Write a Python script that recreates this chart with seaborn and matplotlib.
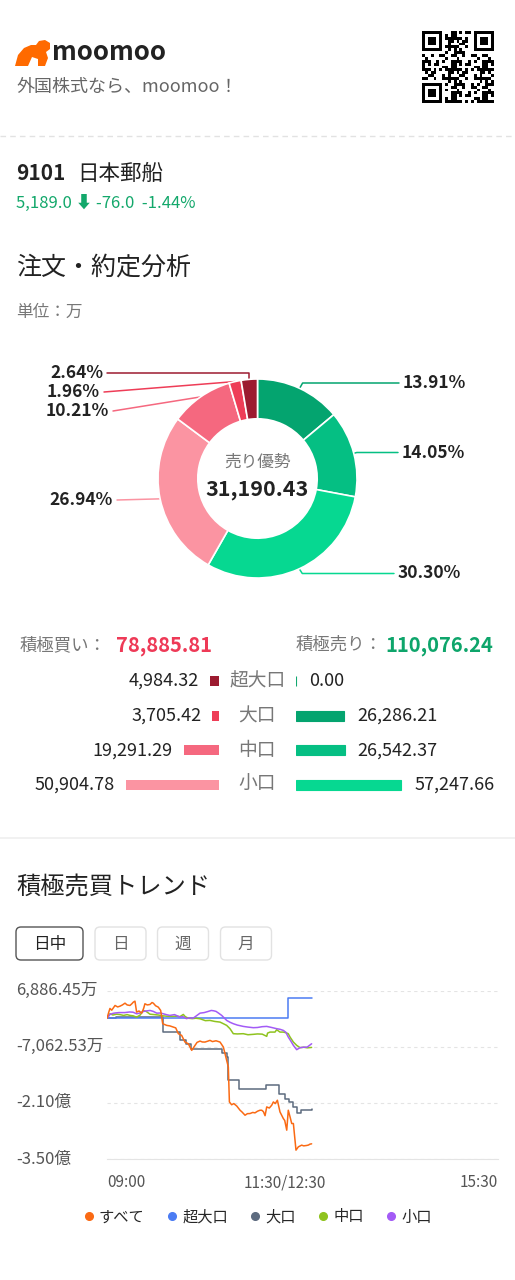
import numpy as np
import pandas as pd
import seaborn as sns
import matplotlib.pyplot as plt
from matplotlib.patches import Polygon, FancyBboxPatch
from matplotlib.lines import Line2D

# ---- header / quote ----
brand = "moomoo"
tagline = "外国株式なら、moomoo！"
ticker = "9101"
stock_name = "日本郵船"
quote_text = "5,189.0 ⬇ -76.0  -1.44%"

# ---- order / execution breakdown (unit: 万) ----
pie_labels = ["13.91%", "14.05%", "30.30%", "26.94%", "10.21%", "1.96%", "2.64%"]
pie_values = [26286.21, 26542.37, 57247.66, 50904.78, 19291.29, 3705.42, 4984.32]
pie_colors = ["#04a46f", "#05bf83", "#06d891", "#fb94a2", "#f5687f", "#ee3d57", "#9c1b30"]
net_caption = "売り優勢"
net_value = "31,190.43"

total_buy = "78,885.81"
total_sell = "110,076.24"
size_rows = ["超大口", "大口", "中口", "小口"]
buy_values = [4984.32, 3705.42, 19291.29, 50904.78]
sell_values = [0.00, 26286.21, 26542.37, 57247.66]
buy_colors = ["#9c1b30", "#ee3d57", "#f5687f", "#fb94a2"]
sell_colors = ["#13a870", "#04a46f", "#05bf83", "#06d891"]

# ---- intraday trend (x: trading minutes since 09:00, y: 万) ----
period_tabs = ["日中", "日", "週", "月"]
x_ticks = [0, 150, 330]
x_ticklabels = ["09:00", "11:30/12:30", "15:30"]
y_ticks = [6886.45, -7062.53, -21011.51, -34960.49]
y_ticklabels = ["6,886.45万", "-7,062.53万", "-2.10億", "-3.50億"]

all_t = [0, 1.5, 2.5, 4, 6.8, 9, 11, 13, 15.2, 17, 19.4, 21, 22.2, 23.6, 25, 27, 29.3, 31, 32, 34,
         36.3, 38, 39.1, 41, 43.3, 45.3, 47, 50.4, 53, 56, 58, 60.2, 63, 65.8, 68.6, 71.5, 74.3, 76,
         78.5, 80.5, 82.7, 85, 86.9, 89, 92, 95.4, 98.2, 101, 102.4, 103.3, 105.2, 107, 109.5, 112.3,
         114, 116.5, 118.5, 120.7, 123, 124.9, 127, 129.1, 130.6, 132, 133.4, 134.8, 137, 139, 140.4,
         142, 143.8, 146, 148.8, 150, 151.7, 153, 154.5, 155.9, 157.3, 159.5, 161.5, 164.3, 166,
         168.5, 170, 171.3, 172.7]
all_v = [0, 1500, 2430, 2000, 3170, 2800, 3000, 3300, 3740, 3300, 3170, 3600, 3990, 4240, 1510, 1800,
         1260, 2500, 3590, 3300, 3420, 3900, 3740, 3100, 2750, 1930, -1360, -1780, -1900, -2200, -2400,
         -3840, -4260, -5920, -6330, -7980, -6740, -6000, -5670, -5900, -5920, -5700, -5500, -5800,
         -5600, -5920, -7160, -10460, -12120, -20790, -21490, -21200, -21800, -22850, -23300, -24090,
         -23700, -23670, -23400, -23500, -23100, -22850, -22850, -23200, -24200, -22030, -22300, -21610,
         -20790, -21200, -20370, -23270, -24900, -25400, -27800, -22850, -24510, -26150, -26150, -32760,
         -31940, -31520, -31700, -31600, -31500, -31270, -31190.43]

xl_t = [0, 153, 172.7]
xl_v = [0, 4984.32, 4984.32]

lg_t = [0, 8, 47, 62, 67, 71, 97, 101, 102, 111, 134, 145, 150, 154, 157, 160, 164, 172.7]
lg_v = [0, 400, -3440, -5500, -6320, -7560, -8720, -9640, -15410, -17640, -16480, -18710, -19950,
        -20790, -22030, -23510, -22680, -22580.79]

md_t = [0, 2.5, 5, 8, 11, 14, 17, 19.4, 22, 25, 28, 30.7, 33, 36.3, 40, 43.3, 47, 50.4, 55, 59, 61.6,
        64.4, 66, 68.6, 72, 75, 78.5, 83, 86.9, 91, 95.4, 98.2, 101, 103.8, 106.6, 110, 115, 119, 123.5,
        127, 131, 134.8, 135.5, 137.6, 141.8, 143.2, 146, 148.8, 151, 153, 154.5, 157.3, 160.1, 162.9,
        166, 169, 172.7]
md_v = [0, 1110, 800, 1000, 900, 700, 900, 700, 600, 270, 800, 1930, 1700, 1000, 900, 800, 600, 500,
        450, 500, 400, 940, 400, 0, -100, 0, -130, -600, -540, -800, -960, -1360, -1780, -2600, -3840,
        -3900, -3840, -4100, -4000, -3900, -3950, -4500, -3700, -3440, -3440, -2850, -3440, -3440, -3600,
        -3840, -4680, -5920, -6740, -7310, -7200, -7350, -7251.08]

sm_t = [0, 2.5, 5, 6.8, 10, 15, 19, 22, 25, 28, 30.7, 33, 36.3, 39, 42, 45, 47.5, 50, 53, 57, 61.6,
        64, 67, 70, 72.7, 75, 78.5, 82, 85, 88, 90, 92, 94, 96.8, 101, 103.8, 106.6, 110, 115, 119,
        123.5, 127, 131, 134.8, 139, 143.2, 146, 148.8, 151, 153, 155, 157.3, 160.1, 162.9, 166, 169,
        172.7]
sm_v = [0, 940, 1200, 1300, 1400, 1400, 1550, 1500, 1100, 1300, 1680, 1800, 1930, 1700, 1260, 1300,
        1110, 900, 700, 900, 270, 400, -100, 100, 0, 500, 1260, 1400, 1650, 1930, 1850, 1700, 1300, 700,
        -540, -1000, -1360, -1700, -2030, -2200, -2350, -2300, -2100, -2030, -2300, -2600, -2750, -3020,
        -3500, -4680, -5600, -6740, -7810, -7310, -7200, -7160, -6342.88]

series_names = ["すべて", "超大口", "大口", "中口", "小口"]
series_colors = ["#fa6a14", "#4b7cf3", "#5d6b7f", "#8fc31f", "#a35bf6"]

sns.set_theme(style="white")
plt.rcParams["font.family"] = ["Noto Sans CJK JP", "DejaVu Sans"]

W, H = 515, 1280
fig = plt.figure(figsize=(W / 100, H / 100), dpi=100, facecolor="white")
bg = fig.add_axes([0, 0, 1, 1])
bg.set_xlim(0, W)
bg.set_ylim(H, 0)
bg.axis("off")


def px_axes(x0, y0, x1, y1):
    return fig.add_axes([x0 / W, 1 - y1 / H, (x1 - x0) / W, (y1 - y0) / H])


def txt(x, y, s, size, color="#222222", weight="normal", ha="left", va="center"):
    bg.text(x, y, s, fontsize=size, color=color, fontweight=weight, ha=ha, va=va)


# header
bg.add_patch(Polygon([(15, 66), (18, 55), (24, 48), (31, 45), (36, 45), (39, 41), (45, 40), (50, 43),
                      (50, 49), (46, 52), (48, 58), (45, 66), (38, 66), (38, 59), (32, 57), (28, 66)],
                     closed=True, color="#ff6a00", lw=0))
txt(52, 53, brand, 18.5, color="#222222", weight="bold")
txt(16, 87, tagline, 13, color="#666666")

# QR-like block
n = 25
ii, jj = np.meshgrid(np.arange(n), np.arange(n), indexing="ij")
qr = ((ii * ii * 3 + jj * jj * 5 + ii * jj * 7 + ii + 2 * jj) % 11 < 5).astype(float)
for r0, c0 in [(0, 0), (0, n - 7), (n - 7, 0)]:
    qr[max(r0 - 1, 0):r0 + 8, max(c0 - 1, 0):c0 + 8] = 0
    blk = np.ones((7, 7))
    blk[1:6, 1:6] = 0
    blk[2:5, 2:5] = 1
    qr[r0:r0 + 7, c0:c0 + 7] = blk
bg.imshow(qr, cmap="Greys", vmin=0, vmax=1, extent=(421.5, 493.5, 103.5, 31.5),
          interpolation="nearest")
bg.set_aspect("auto")
bg.set_xlim(0, W)
bg.set_ylim(H, 0)

bg.plot([0, W], [136, 136], color="#e2e2e2", lw=1, ls=(0, (4, 3)))

# quote
txt(16, 174, ticker, 15, weight="bold")
txt(77, 174, stock_name, 15.5)
txt(16, 203, quote_text, 12, color="#13a86b")
txt(16, 268, "注文・約定分析", 18)
txt(16, 312, "単位：万", 12, color="#777777")

# donut
cx, cy, R = 257.5, 478.5, 99.5
ax_pie = px_axes(cx - R, cy - R, cx + R, cy + R)
ax_pie.pie(pie_values, colors=pie_colors, startangle=90, counterclock=False, radius=1,
           wedgeprops=dict(width=0.4, edgecolor="white", linewidth=1.2))
ax_pie.set_xlim(-1, 1)
ax_pie.set_ylim(-1, 1)
ax_pie.axis("off")
txt(cx, 462, net_caption, 12, color="#777777", ha="center")
txt(cx, 489, net_value, 15.5, weight="bold", ha="center")

fr = np.array(pie_values) / np.sum(pie_values)
theta = 2 * np.pi * (np.cumsum(fr) - fr / 2)
sx = cx + R * np.sin(theta)
sy = cy - R * np.cos(theta)
label_y = [383, 452.5, 573.5, 500, 411, 392, 373]
line_end = [399, 398, 394, 117, 113, 104, 107]
for k, lab in enumerate(pie_labels):
    ly, ex = label_y[k], line_end[k]
    if ex > cx:
        xs, ys = [sx[k], sx[k] + 3, ex], [sy[k], ly, ly]
        tx, ha = ex + 4, "left"
    else:
        if k == len(pie_labels) - 1:
            xs, ys = [sx[k], sx[k], ex], [sy[k], ly, ly]
        else:
            xs, ys = [sx[k], ex], [sy[k], ly]
        tx, ha = ex - 4, "right"
    bg.plot(xs, ys, color=pie_colors[k], lw=1.1)
    txt(tx, ly, lab, 12.5, weight="bold", ha=ha)

# totals
txt(20, 645, "積極買い：", 12.5, color="#777777")
txt(116, 645, total_buy, 14.5, color="#ee3a57", weight="bold")
txt(296, 645, "積極売り：", 12.5, color="#777777")
txt(493, 645, total_sell, 14.5, color="#0ea56b", weight="bold", ha="right")

# buy / sell bars
scale = 0.00184  # px per 万
row_top, row_bot = 663.75, 802.25
ax_buy = px_axes(100, row_top, 219.3, row_bot)
ax_sell = px_axes(295.7, row_top, 420, row_bot)
sns.barplot(x=buy_values, y=size_rows, hue=size_rows, palette=dict(zip(size_rows, buy_colors)),
            orient="h", width=0.29, legend=False, ax=ax_buy, linewidth=0, saturation=1)
sns.barplot(x=sell_values, y=size_rows, hue=size_rows, palette=dict(zip(size_rows, sell_colors)),
            orient="h", width=0.29, legend=False, ax=ax_sell, linewidth=0, saturation=1)
for p in ax_sell.patches:
    p.set_edgecolor(p.get_facecolor())
    p.set_linewidth(0.8)
ax_buy.set_xlim(119.3 / scale, 0)
ax_sell.set_xlim(0, 124.3 / scale)
for a in (ax_buy, ax_sell):
    a.set_ylim(3.5, -0.5)
    a.axis("off")
for i, (b, s) in enumerate(zip(buy_values, sell_values)):
    ax_buy.text(b + 11 / scale, i, f"{b:,.2f}", fontsize=13, color="#222222", ha="right", va="center")
    ax_sell.text(s + 13 / scale, i, f"{s:,.2f}", fontsize=13, color="#222222", ha="left", va="center")
    ax_buy.text(-38 / scale, i, size_rows[i], fontsize=13.5, color="#777777", ha="center", va="center")

bg.plot([0, W], [838, 838], color="#f0f0f0", lw=1.3)

# trend section
txt(16, 888, "積極売買トレンド", 17.5)
tab_boxes = [(16, 83), (95, 146), (157.5, 208.5), (220.5, 271.5)]
for k, (lab, (x0, x1)) in enumerate(zip(period_tabs, tab_boxes)):
    bg.add_patch(FancyBboxPatch((x0, 927), x1 - x0, 33, boxstyle="round,pad=0,rounding_size=5",
                                fc="white", ec="#555555" if k == 0 else "#e2e2e2", lw=1))
    txt((x0 + x1) / 2, 944, lab, 12, color="#222222" if k == 0 else "#666666", ha="center")

ax = px_axes(107, 990.5, 498, 1159)
trend = [(all_t, all_v, False), (xl_t, xl_v, True), (lg_t, lg_v, True), (md_t, md_v, False),
         (sm_t, sm_v, False)]
for idx in [2, 1, 3, 4, 0]:
    t, v, step = trend[idx]
    df = pd.DataFrame({"t": t, "v": v})
    sns.lineplot(data=df, x="t", y="v", ax=ax, color=series_colors[idx], linewidth=1.1,
                 estimator=None, drawstyle="steps-post" if step else "default")
ax.set_xlim(0, 330)
ax.set_ylim(y_ticks[-1], y_ticks[0])
ax.set_xlabel("")
ax.set_ylabel("")
ax.set_yticks(y_ticks)
ax.set_yticklabels([])
ax.yaxis.grid(True, color="#e4e4e4", lw=0.8, ls=(0, (3, 3)))
ax.xaxis.grid(False)
for side in ["top", "left", "right"]:
    ax.spines[side].set_visible(False)
ax.spines["bottom"].set_color("#e4e4e4")
ax.spines["bottom"].set_linewidth(0.8)
ax.set_xticks(x_ticks)
ax.set_xticklabels(x_ticklabels, fontsize=11, color="#555555")
ax.tick_params(length=0, pad=11)
xtl = ax.get_xticklabels()
xtl[0].set_ha("left")
xtl[-1].set_ha("right")
for val, lab in zip(y_ticks, y_ticklabels):
    ax.text(-91 / 391, val, lab, transform=ax.get_yaxis_transform(), fontsize=12, color="#555555",
            ha="left", va="center")

handles = [Line2D([], [], ls="", marker="o", markersize=5.5, color=c) for c in series_colors]
fig.legend(handles, series_names, loc="center", bbox_to_anchor=(258 / W, 1 - 1217 / H), ncol=5,
           frameon=False, fontsize=11, handlelength=0.6, handletextpad=0.35, columnspacing=1.5)

fig.savefig("out.png", dpi=100, facecolor="white")
